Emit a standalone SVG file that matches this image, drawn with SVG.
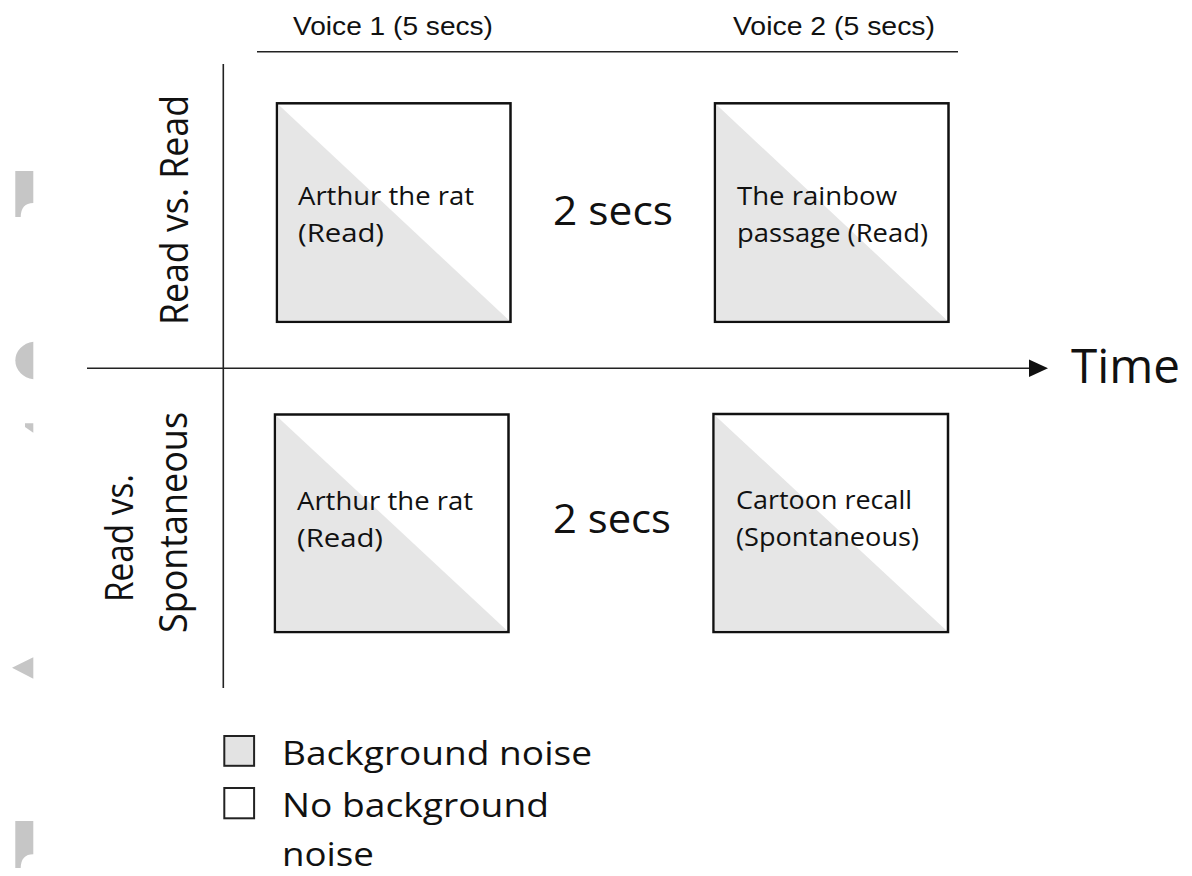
<svg xmlns="http://www.w3.org/2000/svg" width="1192" height="876" viewBox="0 0 1192 876">
<style>
.box{fill:#ffffff;stroke:#111;stroke-width:2.5}
.tri{fill:#e6e6e6;stroke:none}
.t{font-family:"Open Sans","Noto Sans",sans-serif;fill:#111}
.bt{font-size:26px}
.sec{font-size:40px}
.lab{font-size:38px}
.leg{font-size:33px}
.v{font-family:"Liberation Sans",Arial,sans-serif;font-size:26px;fill:#111}
.art{fill:#c6c6c6}
.ax{stroke:#222;stroke-width:1.6;fill:none}
</style>
<rect width="1192" height="876" fill="#ffffff"/>
<g id="artifacts">
<path class="art" d="M15.3,171 H33.3 V203 Q21,203 20.7,217 H15.3 Z"/>
<path class="art" d="M33.3,341.7 A21,19 0 0 0 33.3,379.3 Z"/>
<polygon class="art" points="25,423.3 33.3,423.3 33.3,432.7 25,427"/>
<polygon class="art" points="33.3,657.3 12,667.7 33.3,678.7"/>
<path class="art" d="M15.3,821 H33.3 V854.3 Q21,854.3 20.7,868 H15.3 Z"/>
</g>
<g id="header">
<text class="v" x="293" y="35" textLength="200" lengthAdjust="spacingAndGlyphs">Voice 1 (5 secs)</text>
<text class="v" x="733" y="35" textLength="202" lengthAdjust="spacingAndGlyphs">Voice 2 (5 secs)</text>
</g>
<g id="connectors">
<line class="ax" x1="257" y1="51.7" x2="958" y2="51.7"/>
<line class="ax" x1="223.3" y1="64" x2="223.3" y2="688"/>
<line class="ax" x1="87" y1="368.3" x2="1032" y2="368.3"/>
<polygon points="1029,359.5 1048,368.3 1029,377" fill="#111"/>
</g>
<g id="time-label">
<text class="t" x="1071" y="383" font-size="48" textLength="109" lengthAdjust="spacingAndGlyphs">Time</text>
</g>
<g id="row1-label">
<text class="t lab" transform="translate(188,210) rotate(-90)" text-anchor="middle" textLength="230" lengthAdjust="spacingAndGlyphs">Read vs. Read</text>
</g>
<g id="row2-label">
<text class="t lab" transform="translate(133,538) rotate(-90)" text-anchor="middle" textLength="128" lengthAdjust="spacingAndGlyphs">Read vs.</text>
<text class="t lab" transform="translate(187,522.5) rotate(-90)" text-anchor="middle" textLength="221" lengthAdjust="spacingAndGlyphs">Spontaneous</text>
</g>
<g id="box-r1-v1">
<rect class="box" x="277" y="103.3" width="233.5" height="218.5"/>
<polygon class="tri" points="278.3,104.5 278.3,320.6 509.2,320.6"/>
<text class="t bt" x="298" y="205" textLength="176" lengthAdjust="spacingAndGlyphs">Arthur the rat</text>
<text class="t bt" x="298" y="242" textLength="86" lengthAdjust="spacingAndGlyphs">(Read)</text>
</g>
<g id="gap-r1">
<text class="t sec" x="553" y="225" textLength="120" lengthAdjust="spacingAndGlyphs">2 secs</text>
</g>
<g id="box-r1-v2">
<rect class="box" x="715" y="103.3" width="233.5" height="218.5"/>
<polygon class="tri" points="716.3,104.5 716.3,320.6 947.2,320.6"/>
<text class="t bt" x="737" y="205" textLength="160" lengthAdjust="spacingAndGlyphs">The rainbow</text>
<text class="t bt" x="737" y="242" textLength="191" lengthAdjust="spacingAndGlyphs">passage (Read)</text>
</g>
<g id="box-r2-v1">
<rect class="box" x="275" y="414.5" width="233.5" height="217.5"/>
<polygon class="tri" points="276.3,415.7 276.3,630.8 507.2,630.8"/>
<text class="t bt" x="297" y="510" textLength="176" lengthAdjust="spacingAndGlyphs">Arthur the rat</text>
<text class="t bt" x="297" y="547" textLength="86" lengthAdjust="spacingAndGlyphs">(Read)</text>
</g>
<g id="gap-r2">
<text class="t sec" x="553" y="533" textLength="118" lengthAdjust="spacingAndGlyphs">2 secs</text>
</g>
<g id="box-r2-v2">
<rect class="box" x="713.5" y="414" width="234.5" height="218"/>
<polygon class="tri" points="714.8,415.2 714.8,630.8 946.7,630.8"/>
<text class="t bt" x="736" y="509" textLength="176" lengthAdjust="spacingAndGlyphs">Cartoon recall</text>
<text class="t bt" x="736" y="546" textLength="183" lengthAdjust="spacingAndGlyphs">(Spontaneous)</text>
</g>
<g id="legend">
<rect x="224.3" y="736" width="29.8" height="29.8" fill="#e3e3e3" stroke="#222" stroke-width="2"/>
<rect x="224.3" y="788" width="29.8" height="30.3" fill="#ffffff" stroke="#222" stroke-width="2"/>
<text class="t leg" x="282" y="765" textLength="310" lengthAdjust="spacingAndGlyphs">Background noise</text>
<text class="t leg" x="282" y="817" textLength="267" lengthAdjust="spacingAndGlyphs">No background</text>
<text class="t leg" x="282" y="866" textLength="92" lengthAdjust="spacingAndGlyphs">noise</text>
</g>
</svg>
